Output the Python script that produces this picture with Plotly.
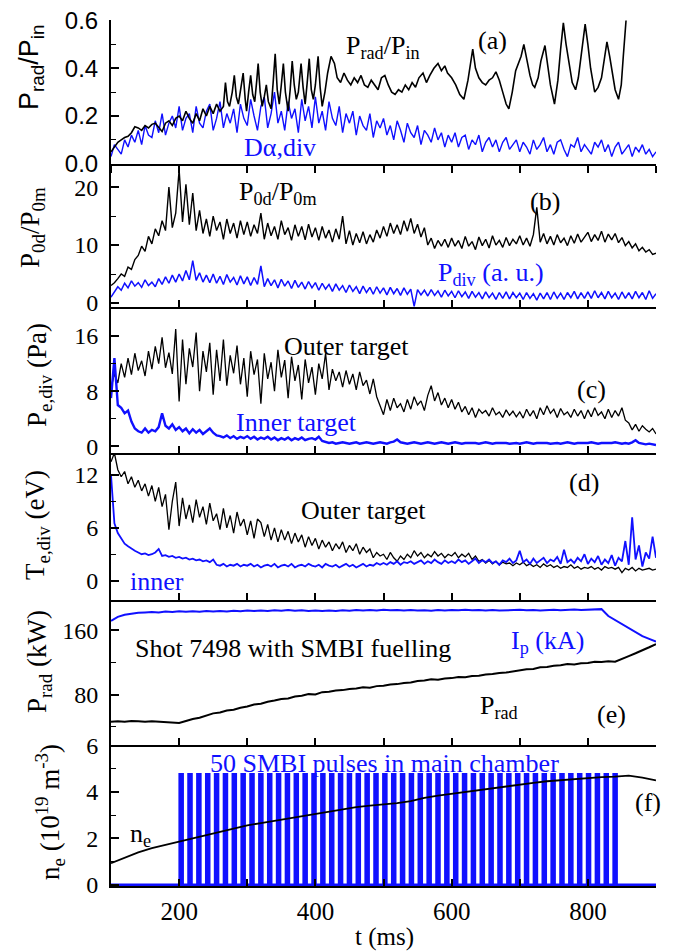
import numpy as np
import plotly.graph_objects as go

# ---------------- data ----------------
T5 = np.arange(100, 901, 5)  # 5-ms sampling grid for the noisy signals

# (a) P_rad/P_in  (explicit time/value pairs)
a_prad_t = [100,105,110,115,120,125,130,135,140,145,150,155,160,165,170,175,180,185,190,195,
            200,205,210,215,220,225,230,235,240,245,250,255,260,265,268,271,274,278,281,284,
            287,291,294,297,299,302,305,308,311,314,316,319,322,325,328,331,335,338,341,344,
            347,350,353,356,360,363,366,369,372,375,379,382,385,388,391,394,397,400,404,407,
            410,414,418,423,428,432,437,442,447,452,457,462,467,472,477,482,487,492,497,502,
            507,512,517,522,527,532,537,542,547,552,558,563,568,574,580,585,590,594,600,606,
            612,618,624,628,631,635,640,645,650,655,660,665,670,675,680,684,689,694,698,702,
            706,710,715,719,722,727,731,737,741,745,751,756,760,764,768,773,777,782,786,790,
            796,800,804,810,815,820,824,828,832,836,840,845,849,852,856]
a_prad_v = [0.05,0.07,0.09,0.10,0.11,0.115,0.13,0.155,0.15,0.14,0.16,0.15,0.165,0.17,0.15,0.135,0.17,0.18,0.16,0.19,
            0.20,0.18,0.22,0.19,0.17,0.21,0.18,0.23,0.20,0.24,0.21,0.25,0.22,0.24,0.34,0.26,0.24,0.30,0.37,0.28,
            0.25,0.33,0.38,0.27,0.22,0.30,0.37,0.29,0.26,0.35,0.42,0.30,0.24,0.28,0.33,0.26,0.23,0.34,0.46,0.31,
            0.25,0.33,0.42,0.30,0.22,0.31,0.43,0.33,0.27,0.30,0.42,0.32,0.25,0.34,0.44,0.31,0.27,0.33,0.45,0.32,
            0.24,0.30,0.38,0.45,0.42,0.36,0.34,0.38,0.35,0.33,0.36,0.34,0.37,0.33,0.32,0.35,0.33,0.31,0.36,0.37,
            0.33,0.30,0.29,0.31,0.30,0.33,0.31,0.34,0.32,0.36,0.38,0.34,0.37,0.40,0.42,0.39,0.41,0.38,0.36,0.33,
            0.29,0.27,0.35,0.42,0.48,0.40,0.36,0.34,0.33,0.35,0.36,0.385,0.35,0.30,0.25,0.23,0.30,0.39,0.42,0.45,
            0.50,0.44,0.37,0.33,0.32,0.36,0.43,0.495,0.42,0.33,0.25,0.35,0.48,0.59,0.50,0.40,0.34,0.31,0.36,0.45,
            0.585,0.50,0.40,0.30,0.32,0.36,0.44,0.51,0.45,0.38,0.31,0.27,0.33,0.45,0.60]

# (a) D-alpha, divertor (5-ms samples, 100..900 ms)
a_dalpha = [0.03,0.08,0.06,0.04,0.10,0.07,0.12,0.09,0.14,0.08,0.16,0.12,0.11,0.18,0.13,0.21,0.12,0.17,0.20,0.15,
            0.24,0.14,0.19,0.21,0.13,0.24,0.17,0.15,0.22,0.25,0.14,0.19,0.26,0.15,0.21,0.17,0.23,0.13,0.25,0.19,
            0.16,0.27,0.20,0.14,0.24,0.28,0.15,0.21,0.30,0.17,0.22,0.14,0.26,0.19,0.23,0.13,0.27,0.18,0.24,0.15,
            0.28,0.17,0.22,0.14,0.26,0.19,0.16,0.24,0.13,0.21,0.17,0.22,0.12,0.20,0.16,0.14,0.21,0.11,0.18,0.15,
            0.19,0.12,0.16,0.10,0.18,0.14,0.09,0.17,0.13,0.11,0.16,0.08,0.14,0.12,0.09,0.15,0.10,0.13,0.07,0.12,
            0.09,0.13,0.07,0.11,0.12,0.06,0.10,0.08,0.12,0.05,0.09,0.11,0.07,0.10,0.05,0.09,0.11,0.06,0.08,0.10,
            0.05,0.09,0.07,0.04,0.10,0.06,0.08,0.11,0.05,0.08,0.04,0.09,0.10,0.06,0.03,0.08,0.07,0.11,0.05,0.08,
            0.06,0.04,0.09,0.07,0.10,0.05,0.08,0.03,0.07,0.09,0.04,0.06,0.08,0.03,0.07,0.05,0.08,0.04,0.06,0.03,
            0.05]

# (b) P0d/P0m
b_ratio = [3.0,3.5,4.2,5.0,4.6,6.2,5.8,7.5,8.2,9.8,8.9,11.5,10.2,12.8,11.6,14.2,12.5,20.0,13.0,15.5,
           23.0,14.0,20.5,13.5,19.0,12.5,16.0,12.0,14.5,11.5,15.0,12.5,14.0,11.0,14.5,12.0,13.8,11.2,14.2,11.8,
           14.0,11.5,13.5,12.0,15.5,11.0,13.8,11.6,13.2,11.0,14.2,11.8,13.0,10.8,13.5,11.5,13.2,10.9,13.6,11.4,
           13.0,10.8,13.2,11.2,12.6,10.5,12.8,11.0,15.0,10.2,12.5,10.0,12.0,10.4,12.3,10.2,11.8,10.5,12.6,11.2,
           13.2,11.5,13.8,12.0,13.5,11.8,14.2,12.4,14.6,12.0,13.6,11.4,13.0,10.0,11.2,9.4,10.8,9.8,11.0,9.6,
           11.2,9.8,10.8,9.4,11.5,9.8,10.6,9.2,11.4,9.9,11.0,9.5,11.6,10.0,10.8,9.6,11.3,9.9,11.0,10.2,
           11.6,10.0,11.2,9.8,11.8,16.5,10.5,12.0,10.2,11.5,10.0,11.8,10.4,11.2,9.9,11.6,10.3,11.9,10.5,11.4,
           12.2,10.6,11.8,10.8,12.4,10.5,11.9,10.9,12.0,10.4,11.3,9.9,10.6,9.5,10.2,9.0,9.6,8.8,9.2,8.4,
           8.6]

# (b) P_div (a.u.)
b_pdiv = [1.0,2.0,2.8,2.2,3.4,2.6,3.8,2.9,3.5,2.7,4.0,3.0,3.6,2.8,4.2,3.2,4.5,3.4,4.8,3.6,
          5.0,3.8,5.6,4.0,7.3,3.9,5.2,3.6,4.8,3.5,5.0,3.4,4.6,3.2,4.9,3.6,4.4,3.1,4.7,3.3,
          4.5,3.0,4.4,3.2,6.4,2.8,4.2,3.0,4.0,2.6,4.1,2.9,3.8,2.5,3.9,2.7,3.6,2.4,3.7,2.6,
          3.5,2.2,3.4,2.4,3.2,2.0,3.3,2.2,3.0,1.8,3.1,2.0,2.8,1.6,2.9,1.8,2.7,1.5,2.8,1.7,
          2.6,1.4,2.7,1.6,2.5,1.3,2.6,1.5,2.4,-0.6,2.3,1.4,2.2,1.2,2.3,1.3,2.1,1.0,2.2,1.2,
          2.0,0.9,2.1,1.1,1.9,0.8,2.0,1.0,1.8,0.7,1.9,0.9,1.7,0.6,1.8,0.8,1.9,0.7,1.8,0.9,
          1.7,0.6,1.8,0.8,1.6,0.5,1.7,0.7,1.8,0.6,1.9,0.8,1.7,0.6,1.8,0.9,2.0,0.7,1.8,0.8,
          1.9,0.8,2.1,0.9,1.8,0.7,2.0,0.9,1.7,0.6,1.9,0.8,1.8,0.7,2.0,0.9,1.8,0.6,2.1,0.8,
          1.6]

# (c) P_e,div outer / inner target (Pa)
c_outer = [8.5,10.5,9.2,12.0,10.0,12.8,10.4,13.5,11.0,12.4,10.2,13.8,11.2,14.5,12.0,15.8,11.4,13.6,10.5,17.0,
           6.5,15.5,9.0,14.2,11.5,16.5,8.0,13.8,10.8,15.0,7.5,14.0,9.5,15.5,8.8,13.2,10.6,14.6,9.0,12.8,
           7.2,13.8,10.4,12.6,6.2,13.5,9.8,12.2,8.0,14.0,10.0,12.5,7.0,13.0,9.5,11.8,6.8,12.6,9.2,11.5,
           7.5,12.0,9.8,13.5,8.2,11.2,9.5,10.8,8.6,11.0,9.0,10.5,8.2,10.8,8.8,9.6,7.6,9.8,7.2,6.0,
           4.6,6.8,5.2,7.0,5.6,6.2,5.0,6.8,5.4,7.2,6.0,6.6,5.2,7.4,8.8,6.6,7.8,6.0,7.0,5.6,
           6.8,5.4,6.4,5.0,5.8,4.6,5.6,4.2,5.4,4.8,5.2,4.4,5.6,4.6,5.0,4.2,5.3,4.5,5.1,4.3,
           5.0,4.1,5.4,4.4,5.2,4.0,5.6,4.6,5.9,4.8,5.4,4.2,5.5,4.6,5.0,4.2,5.4,4.4,5.2,4.0,
           5.3,4.3,5.6,4.5,5.0,4.0,5.4,4.2,5.2,4.4,5.6,3.8,3.4,2.4,3.2,2.2,3.0,2.5,2.1,2.6,
           1.8]
c_inner = [7.0,12.8,6.0,5.6,4.8,5.2,3.6,2.6,2.2,2.0,2.6,2.0,2.4,2.2,2.8,4.8,3.0,2.6,3.2,2.4,
           2.8,2.2,2.6,1.9,2.5,2.0,2.4,1.8,2.2,2.6,2.0,1.6,1.5,1.3,1.6,1.2,1.5,1.1,1.4,1.2,
           1.5,1.1,1.4,1.0,1.3,1.1,1.4,1.0,1.3,0.9,1.2,1.0,1.3,0.9,1.2,1.0,1.3,0.9,1.1,1.2,
           1.0,1.4,0.8,0.6,0.5,0.6,0.4,0.5,0.6,0.5,0.4,0.5,0.6,0.4,0.5,0.6,0.5,0.4,0.5,0.6,
           0.5,0.4,0.6,0.7,1.0,0.6,0.5,0.4,0.5,0.6,0.5,0.4,0.5,0.6,0.5,0.4,0.5,0.6,0.5,0.4,
           0.5,0.6,0.5,0.4,0.5,0.5,0.6,0.5,0.4,0.5,0.6,0.5,0.4,0.5,0.5,0.6,0.5,0.4,0.5,0.5,
           0.4,0.5,0.6,0.5,0.4,0.5,0.5,0.6,0.5,0.4,0.5,0.5,0.4,0.5,0.6,0.5,0.4,0.5,0.5,0.4,
           0.5,0.6,0.5,0.4,0.5,0.5,0.4,0.5,0.6,0.5,0.4,0.5,0.4,0.6,0.9,0.5,0.4,0.3,0.4,0.3,
           0.2]

# (d) T_e,div outer / inner target (eV)
d_outer = [13.5,14.5,12.6,11.8,12.4,11.0,11.8,10.6,11.4,10.2,11.0,9.6,10.8,9.0,10.6,8.4,9.8,5.8,9.0,11.2,
           6.2,9.4,7.0,8.6,6.6,9.2,7.2,8.4,6.4,8.8,6.8,7.6,5.8,8.2,6.0,7.4,5.4,7.8,6.2,7.0,
           5.2,6.8,4.8,7.0,6.6,5.0,6.4,4.6,6.0,4.4,5.8,4.6,5.6,4.2,5.4,4.4,5.2,3.8,5.0,4.0,
           4.8,3.6,4.6,3.8,4.4,3.4,4.2,3.6,4.4,3.2,4.0,3.4,4.2,3.0,3.8,3.2,3.6,2.6,3.2,2.8,
           3.0,2.4,3.2,2.6,2.2,2.8,2.4,3.0,2.6,3.4,2.8,3.2,2.6,3.0,2.7,3.3,2.8,3.1,2.6,3.0,
           2.8,3.2,2.6,3.0,2.7,3.1,2.4,2.8,2.2,2.4,2.0,2.3,1.9,2.2,1.8,2.1,1.9,2.0,1.7,2.0,
           1.8,2.1,1.7,1.9,1.6,1.8,1.5,1.9,1.6,1.8,1.5,1.7,1.4,1.6,1.5,1.8,1.4,1.6,1.3,1.5,
           1.4,1.6,1.3,1.5,1.2,1.6,1.4,1.5,1.3,1.5,0.9,1.4,1.2,1.5,1.1,1.4,1.2,1.3,1.4,1.2,
           1.3]
d_inner = [12.0,6.5,5.4,4.8,4.2,3.9,3.6,3.4,3.2,3.0,3.1,2.9,3.0,3.2,3.6,2.8,2.9,2.7,2.8,2.6,
           2.7,2.5,2.6,2.4,2.5,2.3,2.4,2.2,2.3,2.1,2.4,1.8,1.7,1.9,1.6,1.8,1.7,1.9,1.6,1.8,
           1.7,1.9,1.6,1.8,1.5,1.7,1.8,1.6,1.9,1.5,1.7,1.8,1.6,1.9,1.5,1.7,1.8,1.6,1.9,1.7,
           1.6,1.8,1.5,1.9,1.7,1.6,1.8,1.5,1.7,1.9,1.6,1.8,1.5,1.7,1.9,1.6,1.8,1.7,2.0,1.8,
           2.0,1.8,2.1,1.9,2.2,1.8,2.1,2.0,2.2,1.9,2.1,2.3,1.9,2.2,2.0,2.4,2.1,1.9,2.3,2.0,
           2.2,2.0,2.4,2.1,2.3,1.9,2.2,2.5,2.0,2.3,2.1,2.4,2.0,2.2,1.8,2.3,2.1,2.5,2.0,2.3,
           3.4,2.1,2.4,1.9,2.5,2.0,2.3,2.6,2.0,2.4,2.2,2.7,1.9,3.5,2.1,2.4,2.0,2.6,2.2,3.0,
           1.9,2.5,2.1,2.8,1.8,2.4,2.0,2.9,1.7,2.6,2.2,4.5,1.8,7.2,2.4,4.0,1.6,3.2,2.5,5.0,
           2.6]

# (e) plasma current and radiated power (10-ms samples)
T10 = np.arange(100, 901, 10)
e_ip = [172,177,179.5,181,182,182.5,183,182.5,183.5,183,184,183.2,184,183.4,184.2,183.6,184.4,183.8,184.6,184,
        184.8,184.2,185,184.4,185.2,184.6,185.4,184.6,185.2,184.4,185,184.2,184.8,184.4,185.2,184.6,185.4,184.8,185.6,185,
        185.8,185.2,185.6,185,185.4,184.8,185.2,184.6,185.4,185,185.6,185.2,185.8,185.2,185.6,185,185.4,184.8,185.2,185.6,
        185.8,185.2,185.6,185,185.4,185.8,185.2,185.6,186,185.4,185.8,186.4,186.6,178,173,169,163,158,153,149.5,
        146]
e_prad = [46,46.5,46,47,46.5,46,46.8,46.2,45.8,45,44.5,47,49.5,51,54,56.5,57.5,60,61,63.5,
          65,67.5,68.5,71,72.5,74.5,75,77.5,78.5,80.5,80,83,83.5,85,85.5,87,87.5,89,88.5,90.5,
          91,92.5,93,94.5,95,97,97.5,99,98.5,100,100.5,102,101.5,103,103.5,105,105.5,107,107.5,109,
          110,111.5,112,114,114.5,116,116.5,118,117.5,119,119.5,121,120.5,121.5,121,125,128,131.5,135,139,
          143]

# (f) line-averaged density (20-ms samples) and SMBI pulses
T20 = np.arange(100, 901, 20)
f_ne = [0.93,1.15,1.40,1.58,1.72,1.86,2.0,2.13,2.27,2.43,2.56,2.66,2.76,2.86,2.97,3.07,3.17,3.28,3.35,3.41,
        3.46,3.52,3.60,3.74,3.84,3.92,4.01,4.10,4.18,4.25,4.33,4.39,4.46,4.51,4.56,4.60,4.64,4.66,4.70,4.62,
        4.50]
smbi_start = [201,214,227,240,253,266,279,292,305,318,331,344,357,370,383,396,409,422,435,448,
              461,474,487,500,513,526,539,552,565,578,591,604,617,630,643,656,669,682,695,708,
              721,734,747,760,773,786,799,812,825,838]
smbi_width = 4.0
smbi_height = 4.75

# build pulse waveform from the pulse list
px, py = [100.0], [0.0]
for s in smbi_start:
    px += [s, s, s + smbi_width, s + smbi_width]
    py += [0, smbi_height, smbi_height, 0]
px.append(900.0); py.append(0.0)

# ---------------- figure ----------------
BLACK = "#000000"
BLUE = "#1010ff"
SERIF = "Liberation Serif"
SANS = "Liberation Sans"

fig = go.Figure()

def add(x, y, ax, color, w):
    fig.add_trace(go.Scatter(x=x, y=y, mode="lines", xaxis="x" + ax, yaxis="y" + ax,
                             line=dict(color=color, width=w), showlegend=False, hoverinfo="skip"))

add(T5, a_dalpha, "", BLUE, 1.4)
add(a_prad_t, a_prad_v, "", BLACK, 1.6)
add(T5, b_ratio, "2", BLACK, 1.4)
add(T5, b_pdiv, "2", BLUE, 1.5)
add(T5, c_outer, "3", BLACK, 1.3)
add(T5, c_inner, "3", BLUE, 2.4)
add(T5, d_outer, "4", BLACK, 1.3)
add(T5, d_inner, "4", BLUE, 1.8)
add(T10, e_ip, "5", BLUE, 2.0)
add(T10, e_prad, "5", BLACK, 2.0)
add(px, py, "6", BLUE, 2.8)
add(T20, f_ne, "6", BLACK, 1.8)

# panel geometry in page pixels (the page body adds an 8-px offset)
OFF = 8
H_TOP, H_BOT = 20, 886
def yp(pix):
    return (H_BOT - pix) / (H_BOT - H_TOP)

bounds = [20, 164, 307, 453, 600, 745, 886]
ranges = [[-0.001, 0.602], [-0.7, 24], [-0.95, 20.2], [-2.2, 14.5], [17, 198], [-0.05, 6.02]]
majors = [[0, 0.2, 0.4, 0.6], [0, 10, 20], [0, 8, 16], [0, 6, 12], [80, 160], [0, 2, 4, 6]]
labels = [["0.0", "0.2", "0.4", "0.6"], ["0", "10", "20"], ["0", "8", "16"], ["0", "6", "12"],
          ["80", "160"], ["0", "2", "4", "6"]]
minors = [[0.1, 0.3, 0.5], [5, 15], [4, 12], [3, 9], [40, 120], [1, 3, 5]]

xt = [100, 200, 300, 400, 500, 600, 700, 800, 900]
xl = ["", "200", "", "400", "", "600", "", "800", ""]

layout = dict(width=673 - OFF, height=951 - OFF, plot_bgcolor="white", paper_bgcolor="white",
              margin=dict(l=111 - OFF, r=17, t=20 - OFF, b=65, autoexpand=False), showlegend=False)

for i in range(6):
    sfx = "" if i == 0 else str(i + 1)
    dom = [yp(bounds[i + 1]), yp(bounds[i])]
    tickfont = dict(family=SANS if i == 0 else SERIF, size=24, color="black")
    layout["xaxis" + sfx] = dict(
        domain=[0, 1], range=[100, 900], anchor="y" + sfx, showline=True, linecolor="black",
        linewidth=2, showgrid=False, zeroline=False, tickmode="array", tickvals=xt, ticktext=xl,
        ticks="outside" if i == 0 else "inside", ticklen=7, tickwidth=1.5, tickcolor="black",
        showticklabels=(i == 5), tickfont=dict(family=SERIF, size=25, color="black"),
        ticklabelstandoff=2, ticklabeloverflow="allow", automargin=False,
        **({} if i == 0 else {"matches": "x"}))
    layout["yaxis" + sfx] = dict(
        domain=dom, range=ranges[i], anchor="x" + sfx, showline=True, linecolor="black",
        linewidth=2, showgrid=False, zeroline=False, tickmode="array", tickvals=majors[i],
        ticktext=labels[i], ticks="inside", ticklen=8, tickwidth=1.5, tickcolor="black",
        tickfont=tickfont, ticklabelstandoff=6, ticklabeloverflow="allow", automargin=False,
        minor=dict(tickvals=minors[i], ticks="inside", ticklen=5, tickwidth=1.2, tickcolor="black"))

fig.update_layout(**layout)

ann = []
def txt(x, y, s, ax, color=BLACK, size=26, family=SERIF):
    ann.append(dict(x=x, y=y, xref="x" + ax, yref="y" + ax, text=s, showarrow=False,
                    xanchor="center", yanchor="middle",
                    font=dict(family=family, size=size, color=color)))

txt(499, 0.49, "P<sub>rad</sub>/P<sub>in</sub>", "")
txt(660, 0.517, "(a)", "")
txt(348, 0.067, "Dα,div", "", BLUE)
txt(345, 19.0, "P<sub>0d</sub>/P<sub>0m</sub>", "2")
txt(737, 17.6, "(b)", "2")
txt(658, 5.0, "P<sub>div</sub> (a. u.)", "2", BLUE)
txt(446, 14.5, "Outer target", "3")
txt(806, 8.2, "(c)", "3")
txt(373, 3.4, "Inner target", "3", BLUE)
txt(794, 11.2, "(d)", "4")
txt(470, 8.0, "Outer target", "4")
txt(167, -0.15, "inner", "4", BLUE)
txt(367, 137, "Shot 7498 with SMBI fuelling", "5")
txt(741, 145, "I<sub>p</sub> (kA)", "5", BLUE)
txt(670, 64, "P<sub>rad</sub>", "5")
txt(834, 55, "(e)", "5")
txt(501, 5.23, "50 SMBI pulses in main chamber", "6", BLUE)
txt(144, 2.15, "n<sub>e</sub>", "6")
txt(888, 3.56, "(f)", "6")

def xpap(pix):
    return (pix - 111) / 545

ytitles = [
    ("P<sub>rad</sub>/P<sub>in</sub>", 31, 67, SANS),
    ("P<sub>0d</sub>/P<sub>0m</sub>", 32, 228, SERIF),
    ("P<sub>e,div</sub> (Pa)", 39, 375, SERIF),
    ("T<sub>e,div</sub> (eV)", 37, 525, SERIF),
    ("P<sub>rad</sub> (kW)", 39, 662, SERIF),
    ("n<sub>e</sub> (10<sup>19</sup> m<sup>-3</sup>)", 50, 812, SERIF),
]
for s, xpix, ypix, fam in ytitles:
    ann.append(dict(x=xpap(xpix), y=yp(ypix), xref="paper", yref="paper", text=s,
                    showarrow=False, textangle=-90, xanchor="center", yanchor="middle",
                    font=dict(family=fam, size=27, color="black")))

ann.append(dict(x=xpap(384), y=yp(937), xref="paper", yref="paper", text="t (ms)",
                showarrow=False, xanchor="center", yanchor="middle",
                font=dict(family=SERIF, size=25, color="black")))

fig.update_layout(annotations=ann)
fig.write_html("out.html")
